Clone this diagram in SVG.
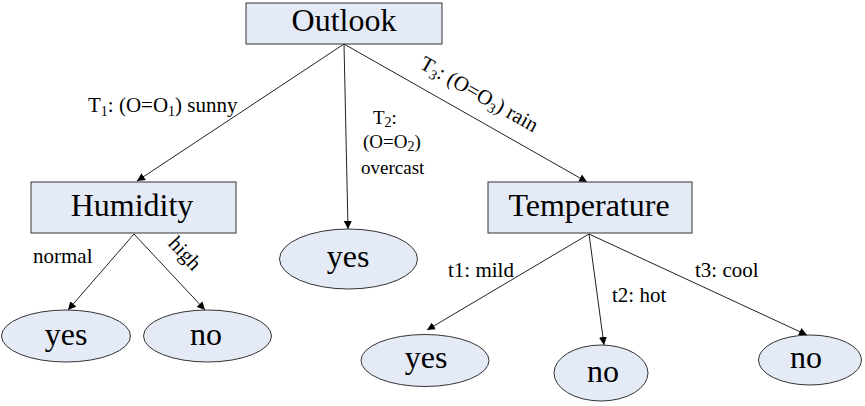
<svg xmlns="http://www.w3.org/2000/svg" width="865" height="406" viewBox="0 0 865 406">
<style>
.box{fill:#E5EBF6;stroke:#333;stroke-width:1}
.nt{font-family:'Liberation Serif','DejaVu Serif',serif;font-size:32px;fill:#000;text-anchor:middle}
.lb{font-family:'Liberation Serif','DejaVu Serif',serif;font-size:21px;fill:#000}
.sm{font-size:19px}
.sub{font-size:14px}
.edge{stroke:#222;stroke-width:1;fill:none;marker-end:url(#ah)}
</style>
<defs>
<marker id="ah" markerUnits="userSpaceOnUse" markerWidth="10" markerHeight="8" refX="8" refY="4" orient="auto">
<path d="M0,0 L8,4 L0,8 Z" fill="#000"/>
</marker>
</defs>
<rect width="865" height="406" fill="#fff"/>
<g id="connectors">
<line class="edge" x1="344" y1="44" x2="137" y2="181"/>
<line class="edge" x1="344" y1="44" x2="348" y2="229"/>
<line class="edge" x1="344" y1="44" x2="587" y2="182"/>
<line class="edge" x1="134" y1="234" x2="68" y2="310"/>
<line class="edge" x1="134" y1="234" x2="205" y2="310"/>
<line class="edge" x1="589" y1="234" x2="427" y2="330"/>
<line class="edge" x1="589" y1="234" x2="604" y2="345"/>
<line class="edge" x1="589" y1="234" x2="807" y2="335"/>
</g>
<g id="edge-labels">
<text class="lb" x="88" y="112">T<tspan class="sub" dy="4">1</tspan><tspan dy="-4">: (O=O</tspan><tspan class="sub" dy="4">1</tspan><tspan dy="-4">) sunny</tspan></text>
<text class="lb sm" x="373" y="124">T<tspan class="sub" dy="3">2</tspan><tspan dy="-3">:</tspan></text>
<text class="lb sm" x="363" y="148">(O=O<tspan class="sub" dy="3">2</tspan><tspan dy="-3">)</tspan></text>
<text class="lb sm" x="361" y="174">overcast</text>
<text class="lb" text-anchor="middle" transform="translate(476,100) rotate(29.6)">T<tspan class="sub" dy="4">3</tspan><tspan dy="-4">: (O=O</tspan><tspan class="sub" dy="4">3</tspan><tspan dy="-4">) rain</tspan></text>
<text class="lb" x="33" y="263">normal</text>
<text class="lb" text-anchor="middle" transform="translate(180,258) rotate(47)">high</text>
<text class="lb" x="448" y="277">t1: mild</text>
<text class="lb" x="612" y="302">t2: hot</text>
<text class="lb" x="695" y="277">t3: cool</text>
</g>
<g id="outlook"><rect class="box" x="246" y="3" width="196" height="41"/><text class="nt" x="344" y="31">Outlook</text></g>
<g id="humidity"><rect class="box" x="31" y="182" width="205" height="51"/><text class="nt" x="132" y="216">Humidity</text></g>
<g id="temperature"><rect class="box" x="488" y="182" width="204" height="51"/><text class="nt" x="589" y="216">Temperature</text></g>
<g id="yes-overcast"><ellipse class="box" cx="348.5" cy="259" rx="69" ry="30"/><text class="nt" x="348" y="267">yes</text></g>
<g id="yes-normal"><ellipse class="box" cx="66" cy="336" rx="64.5" ry="26"/><text class="nt" x="66" y="345">yes</text></g>
<g id="no-high"><ellipse class="box" cx="207.5" cy="336" rx="64" ry="26"/><text class="nt" x="206" y="345">no</text></g>
<g id="yes-mild"><ellipse class="box" cx="425" cy="360.5" rx="64" ry="26"/><text class="nt" x="426" y="368">yes</text></g>
<g id="no-hot"><ellipse class="box" cx="601" cy="373" rx="47" ry="28"/><text class="nt" x="603" y="382">no</text></g>
<g id="no-cool"><ellipse class="box" cx="810" cy="360" rx="51.5" ry="25"/><text class="nt" x="806" y="368">no</text></g>
</svg>
